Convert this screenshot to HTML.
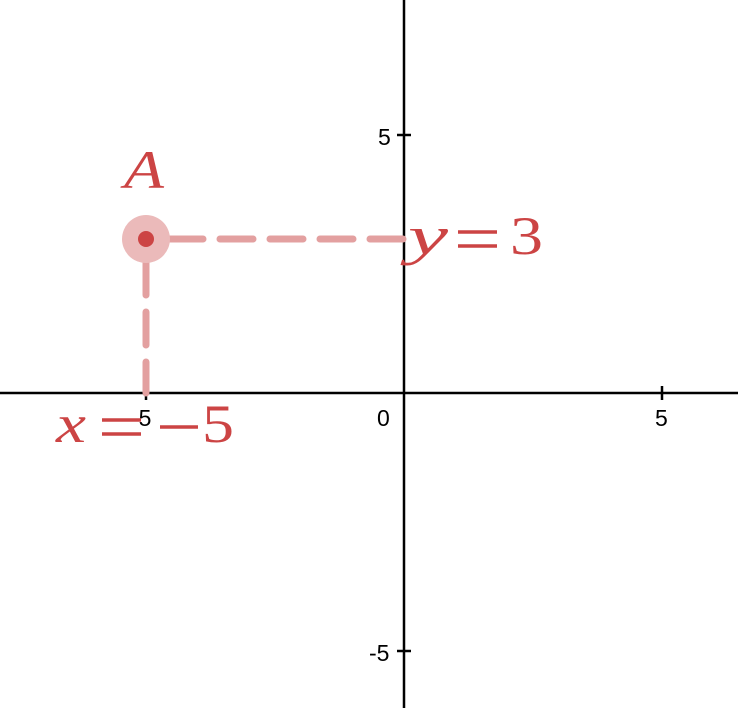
<!DOCTYPE html>
<html><head><style>body{margin:0;background:#fff}svg{display:block}</style></head><body>
<svg width="738" height="708" xmlns="http://www.w3.org/2000/svg">
<g stroke="#000" stroke-width="2.5">
<line x1="0" y1="393" x2="738" y2="393"/>
<line x1="404" y1="0" x2="404" y2="708"/>
<line x1="146" y1="386" x2="146" y2="400"/>
<line x1="662" y1="386" x2="662" y2="400"/>
<line x1="397" y1="135" x2="411" y2="135"/>
<line x1="397" y1="651" x2="411" y2="651"/>
</g>
<g font-family="Liberation Sans, sans-serif" font-size="23" fill="#000">
<text x="378" y="145">5</text>
<text x="377" y="426">0</text>
<text x="655" y="426">5</text>
<text x="369" y="661">-5</text>
<text x="131" y="426">-5</text>
</g>
<g stroke="#e3a0a0" stroke-width="7" stroke-linecap="round" fill="none">
<path d="M170 239 H404" stroke-dasharray="33 17"/>
<path d="M146 262 V393" stroke-dasharray="33 17"/>
</g>
<circle cx="146" cy="239" r="24" fill="#ebbaba"/>
<circle cx="146" cy="239" r="8" fill="#cc4444"/>
<g font-family="Liberation Serif, serif" fill="#cc4444" font-size="54">
<text x="124" y="188" font-style="italic" textLength="40" lengthAdjust="spacingAndGlyphs">A</text>
<text x="408" y="254" font-style="italic" textLength="40" lengthAdjust="spacingAndGlyphs">y</text>
<text x="510" y="254" textLength="33" lengthAdjust="spacingAndGlyphs">3</text>
<text x="56" y="442" font-style="italic" textLength="30" lengthAdjust="spacingAndGlyphs">x</text>
<text x="202" y="442" textLength="32" lengthAdjust="spacingAndGlyphs">5</text>
</g>
<g stroke="#cc4444" stroke-width="3.5">
<line x1="458" y1="232" x2="497" y2="232"/>
<line x1="458" y1="246" x2="497" y2="246"/>
<line x1="102" y1="420" x2="141" y2="420"/>
<line x1="102" y1="434" x2="141" y2="434"/>
<line x1="160" y1="427" x2="198" y2="427"/>
</g>
</svg>
</body></html>
